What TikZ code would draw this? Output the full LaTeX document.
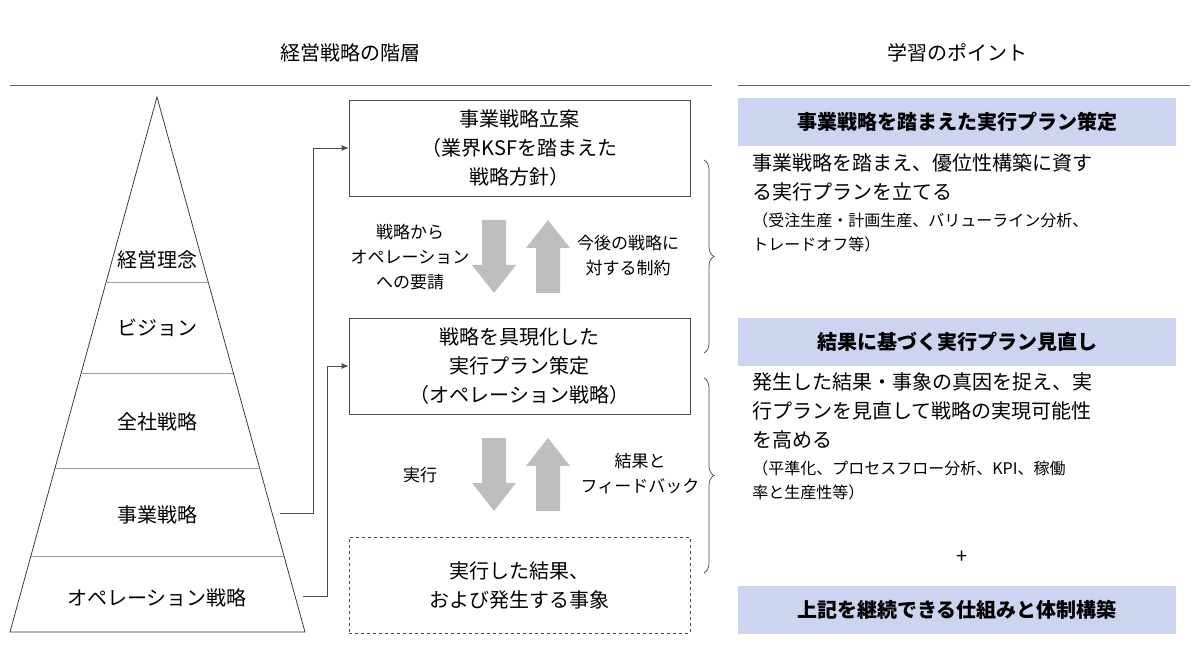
\documentclass[tikz,border=0pt]{standalone}
\usepackage{fontspec}
\setmainfont{Noto Sans CJK JP}
\usetikzlibrary{arrows.meta,decorations.pathreplacing}
\definecolor{pointblue}{RGB}{204,212,240}
\definecolor{arrowgray}{RGB}{190,190,190}
\tikzset{every picture/.style={line width=0.75pt}}
\tikzset{
  lvl/.style={font=\fontsize{20}{24}\selectfont},
  box/.style={draw=black!70,minimum width=341pt,minimum height=96pt,align=center,font=\fontsize{20}{29}\selectfont},
  pt/.style={fill=pointblue,minimum width=438pt,minimum height=48pt,font=\bfseries\fontsize{20}{24}\selectfont},
  note/.style={align=center,font=\fontsize{17}{25}\selectfont},
  body/.style={anchor=north west,align=left,inner sep=0pt,font=\fontsize{20}{29}\selectfont},
  small/.style={anchor=north west,align=left,inner sep=0pt,font=\fontsize{16}{24}\selectfont},
  con/.style={draw=black!70,-{Latex[length=7pt,width=6pt]}},
  big/.style={fill=arrowgray,draw=none}
}
\begin{document}
\begin{tikzpicture}[x=1pt,y=1pt,yscale=-1,xscale=1]
\useasboundingbox (0,0) rectangle (1200,652);
% headings
\node[font=\fontsize{20}{24}\selectfont] (t1) at (350,53) {経営戦略の階層};
\node[font=\fontsize{20}{24}\selectfont] (t2) at (957,53) {学習のポイント};
\draw[black!60] (10,85) -- (712,85);
\draw[black!60] (738,85) -- (1190,85);
% pyramid
\draw[black!80] (157,97) -- (10,632) -- (305,632) -- cycle;
\foreach \yy in {282,373,468,556}
  \draw[black!40] ({157-0.2748*(\yy-97)},\yy) -- ({157+0.2766*(\yy-97)},\yy);
\node[lvl] (l1) at (157,260) {経営理念};
\node[lvl] (l2) at (157,328) {ビジョン};
\node[lvl] (l3) at (157,422) {全社戦略};
\node[lvl] (l4) at (157,515) {事業戦略};
\node[lvl] (l5) at (157,598) {オペレーション戦略};
\coordinate (j4) at (280,513);
\coordinate (j5) at (303,596);
% boxes
\node[box] (b1) at (519.5,148) {事業戦略立案\\（業界KSFを踏まえた\\戦略方針）};
\node[box] (b2) at (519.5,366) {戦略を具現化した\\実行プラン策定\\（オペレーション戦略）};
\node[box,dashed] (b3) at (519.5,585) {実行した結果、\\および発生する事象};
\draw[con] (j4) -- ++(33,0) |- (b1.west);
\draw[con] (j5) -- ++(24,0) |- (b2.west);
% gray arrows
\foreach \yt in {220,438}{
  \fill[big] (482,\yt) -- (506,\yt) -- (506,\yt+45) -- (516,\yt+45) -- (494,\yt+73) -- (472,\yt+45) -- (482,\yt+45) -- cycle;
  \fill[big] (536,\yt+73) -- (560,\yt+73) -- (560,\yt+28) -- (570,\yt+28) -- (548,\yt) -- (526,\yt+28) -- (536,\yt+28) -- cycle;
}
\node[note] (n1) at (410,257) {戦略から\\オペレーション\\への要請};
\node[note] (n2) at (628,256) {今後の戦略に\\対する制約};
\node[note] (n3) at (420,475) {実行};
\node[note] (n4) at (640,474) {結果と\\フィードバック};
% braces
\draw[black!70,decorate,decoration={brace,amplitude=10pt}] (704,160) -- (704,353);
\draw[black!70,decorate,decoration={brace,amplitude=10pt}] (704,378) -- (704,573);
% points
\node[pt] (p1) at (957,122) {事業戦略を踏まえた実行プラン策定};
\node[pt] (p2) at (957,342) {結果に基づく実行プラン見直し};
\node[pt] (p3) at (957,610) {上記を継続できる仕組みと体制構築};
\node[body] (d1) at (752,153) {事業戦略を踏まえ、優位性構築に資す\\る実行プランを立てる};
\node[small] (s1) at (752,212) {（受注生産・計画生産、バリューライン分析、\\トレードオフ等）};
\node[body] (d2) at (752,372) {発生した結果・事象の真因を捉え、実\\行プランを見直して戦略の実現可能性\\を高める};
\node[small] (s2) at (752,460) {（平準化、プロセスフロー分析、KPI、稼働\\率と生産性等）};
\node[font=\fontsize{20}{24}\selectfont] (plus) at (962,557) {+};
\end{tikzpicture}
\end{document}
